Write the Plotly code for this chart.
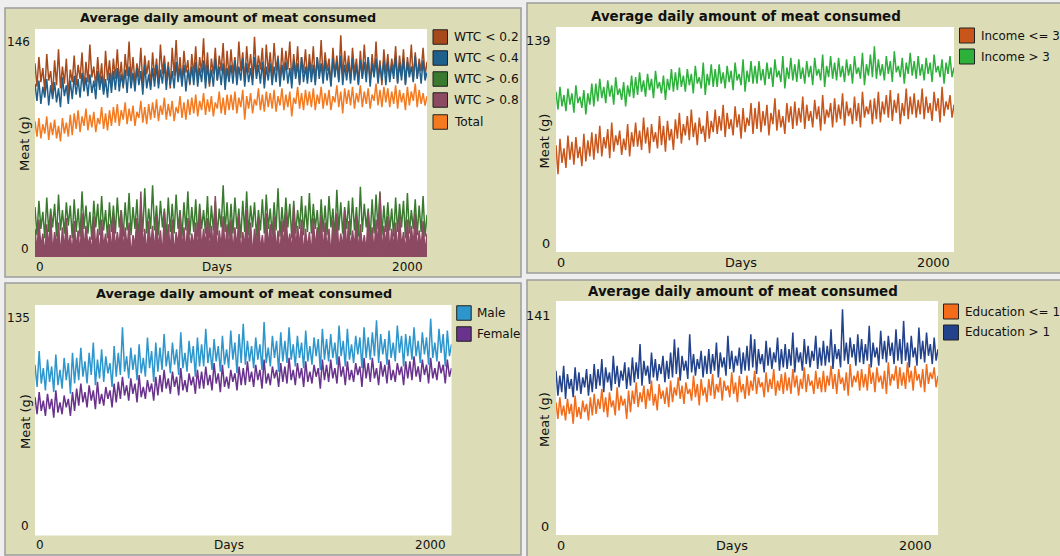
import plotly.graph_objects as go

W, H = 1060, 556

# ---------------- data (~every 10 days) ----------------
DAYS_MAX = 2000

wtc_lt02 = [124, 109, 128, 112, 121, 106, 130, 113, 119, 104, 126, 110, 133, 108, 122, 111, 127, 103, 120, 112,
            129, 110, 123, 114, 131, 107, 125, 112, 136, 115, 122, 109, 128, 111, 124, 106, 132, 113, 126, 110,
            127, 114, 133, 112, 125, 108, 130, 116, 138, 113, 128, 111, 124, 115, 134, 110, 129, 117, 126, 109,
            131, 115, 127, 111, 136, 117, 129, 113, 125, 108, 134, 116, 139, 114, 128, 112, 132, 118, 126, 110,
            130, 116, 135, 112, 128, 118, 140, 114, 131, 109, 127, 117, 134, 113, 129, 119, 137, 111, 132, 115,
            133, 117, 128, 113, 138, 119, 131, 112, 135, 118, 130, 114, 141, 116, 129, 120, 134, 111, 136, 118,
            131, 115, 137, 119, 129, 112, 134, 117, 132, 120, 138, 113, 130, 116, 135, 111, 128, 118, 133, 114,
            130, 117, 135, 112, 128, 116, 139, 114, 131, 119, 127, 110, 134, 117, 129, 113, 142, 115, 132, 118,
            129, 113, 134, 118, 127, 111, 132, 115, 136, 117, 128, 112, 130, 116, 138, 114, 126, 110, 133, 117,
            130, 114, 127, 118, 135, 112, 129, 116, 133, 111, 128, 117, 136, 113, 131, 115, 127, 119, 134, 116, 125]
wtc_lt04 = [111, 100, 113, 98, 109, 102, 114, 97, 110, 101, 112, 99, 108, 96, 115, 103, 110, 98, 113, 101,
            116, 104, 114, 102, 118, 106, 115, 103, 117, 105, 113, 101, 119, 107, 116, 104, 114, 102, 118, 105,
            119, 107, 121, 106, 117, 109, 120, 105, 122, 108, 118, 106, 121, 110, 119, 104, 123, 108, 117, 107,
            121, 109, 123, 108, 120, 111, 124, 107, 122, 110, 119, 108, 125, 112, 121, 109, 123, 106, 120, 111,
            122, 110, 125, 109, 121, 112, 126, 108, 123, 111, 120, 109, 127, 113, 122, 110, 124, 107, 121, 112,
            123, 111, 126, 110, 122, 113, 127, 109, 124, 112, 121, 110, 128, 114, 123, 111, 125, 108, 122, 113,
            124, 110, 122, 112, 127, 109, 123, 113, 125, 111, 121, 108, 126, 114, 124, 110, 128, 112, 122, 111,
            125, 112, 123, 110, 128, 114, 124, 111, 126, 113, 122, 109, 127, 115, 125, 112, 129, 110, 123, 113,
            124, 111, 127, 113, 123, 110, 126, 114, 125, 112, 128, 109, 124, 115, 127, 111, 123, 113, 126, 110,
            125, 112, 123, 114, 128, 111, 124, 113, 127, 110, 125, 115, 122, 112, 129, 114, 124, 111, 126, 113, 118]
wtc_gt06 = [32, 14, 36, 18, 29, 12, 38, 16, 31, 19, 34, 13, 40, 17, 30, 15, 35, 20, 33, 12,
            37, 16, 31, 13, 42, 18, 33, 15, 29, 11, 36, 19, 34, 14, 39, 17, 30, 12, 35, 16,
            33, 15, 38, 19, 30, 13, 35, 17, 41, 14, 32, 18, 37, 12, 34, 16, 44, 15, 31, 18,
            46, 17, 33, 14, 36, 19, 31, 12, 38, 16, 34, 15, 40, 18, 30, 13, 35, 17, 42, 14,
            32, 16, 37, 13, 34, 18, 30, 15, 39, 12, 33, 17, 36, 14, 31, 19, 46, 16, 35, 13,
            34, 15, 38, 18, 31, 12, 36, 16, 42, 14, 33, 19, 35, 13, 30, 17, 37, 15, 40, 18,
            31, 14, 35, 17, 44, 13, 32, 16, 38, 19, 34, 12, 36, 15, 30, 18, 39, 14, 33, 16,
            41, 15, 34, 18, 30, 12, 37, 16, 33, 14, 39, 19, 31, 13, 43, 17, 35, 15, 32, 18,
            36, 14, 38, 17, 32, 13, 45, 16, 34, 19, 31, 12, 37, 15, 40, 18, 42, 14, 33, 16,
            35, 17, 31, 13, 38, 16, 34, 19, 36, 12, 41, 15, 30, 18, 37, 14, 33, 16, 39, 13, 27]
wtc_gt08 = [18, 3, 24, 6, 15, 1, 21, 5, 27, 2, 16, 7, 22, 0, 19, 4, 25, 6, 14, 2,
            23, 5, 17, 1, 28, 4, 20, 7, 13, 2, 26, 5, 18, 0, 24, 6, 15, 3, 21, 1,
            27, 4, 16, 6, 30, 2, 19, 5, 22, 0, 14, 7, 25, 3, 42, 5, 18, 1, 23, 6,
            20, 2, 26, 5, 17, 0, 29, 6, 21, 3, 24, 1, 16, 7, 28, 4, 19, 2, 25, 5,
            15, 6, 22, 1, 31, 4, 18, 7, 25, 2, 20, 5, 39, 0, 17, 6, 26, 3, 21, 4,
            24, 2, 19, 5, 27, 1, 16, 6, 30, 3, 22, 0, 18, 7, 25, 4, 14, 2, 28, 5,
            21, 6, 26, 3, 17, 1, 23, 5, 29, 7, 15, 2, 33, 4, 20, 6, 24, 0, 18, 5,
            16, 1, 25, 5, 19, 7, 27, 2, 22, 4, 18, 0, 24, 6, 28, 3, 15, 5, 30, 2,
            23, 4, 17, 6, 26, 1, 21, 5, 14, 3, 29, 7, 19, 2, 24, 5, 41, 0, 20, 6,
            26, 3, 18, 5, 22, 1, 27, 6, 16, 2, 24, 4, 20, 7, 28, 3, 17, 5, 23, 2, 15]
total = [87, 77, 89, 76, 85, 79, 90, 75, 86, 78, 88, 76, 84, 74, 89, 79, 86, 77, 91, 78,
         92, 82, 94, 80, 90, 84, 95, 81, 91, 83, 93, 80, 89, 85, 96, 82, 92, 81, 94, 84,
         96, 86, 98, 84, 94, 88, 99, 85, 95, 87, 97, 84, 93, 89, 100, 86, 96, 85, 98, 88,
         99, 89, 101, 87, 97, 91, 102, 88, 98, 90, 100, 87, 96, 92, 103, 89, 99, 88, 101, 91,
         102, 92, 104, 90, 100, 94, 105, 91, 101, 93, 103, 90, 99, 95, 106, 92, 102, 91, 104, 94,
         104, 94, 106, 92, 102, 96, 107, 88, 103, 95, 105, 92, 101, 97, 108, 94, 104, 93, 106, 96,
         105, 95, 107, 93, 103, 97, 108, 94, 104, 96, 106, 90, 102, 98, 109, 95, 105, 94, 107, 97,
         106, 96, 108, 94, 104, 98, 109, 95, 105, 97, 107, 94, 103, 99, 110, 96, 106, 92, 108, 98,
         107, 97, 109, 95, 105, 99, 110, 96, 106, 98, 108, 95, 104, 100, 111, 97, 107, 96, 109, 99,
         108, 96, 106, 98, 110, 95, 107, 99, 105, 94, 109, 97, 106, 100, 111, 96, 107, 98, 105, 97, 103]

income_le3 = [66, 48, 70, 55, 64, 52, 72, 57, 68, 54, 71, 58, 65, 53, 73, 56, 69, 59, 74, 57,
              73, 61, 78, 59, 71, 64, 76, 58, 80, 62, 72, 66, 75, 60, 70, 63, 79, 59, 74, 65,
              80, 65, 75, 63, 83, 67, 77, 61, 79, 68, 74, 64, 84, 66, 78, 62, 81, 69, 76, 63,
              82, 70, 86, 67, 79, 72, 84, 69, 88, 71, 80, 66, 83, 73, 78, 68, 87, 70, 81, 74,
              88, 73, 84, 75, 91, 71, 86, 76, 82, 72, 90, 77, 85, 70, 89, 74, 83, 78, 92, 73,
              89, 76, 93, 74, 87, 78, 91, 72, 86, 79, 95, 75, 88, 77, 84, 73, 92, 80, 90, 76,
              93, 78, 89, 80, 96, 76, 91, 81, 87, 77, 94, 82, 90, 75, 97, 79, 88, 83, 92, 77,
              95, 80, 91, 82, 98, 78, 93, 84, 89, 79, 96, 81, 92, 77, 99, 83, 90, 85, 94, 79,
              95, 82, 99, 80, 93, 85, 97, 83, 100, 81, 94, 86, 98, 79, 92, 84, 101, 82, 96, 85,
              98, 83, 94, 85, 101, 82, 96, 86, 92, 81, 99, 87, 95, 80, 102, 84, 93, 88, 97, 83, 91]
income_gt3 = [99, 88, 102, 90, 97, 87, 101, 91, 98, 86, 103, 92, 96, 89, 100, 85, 98, 91, 104, 90,
              104, 93, 107, 95, 102, 92, 106, 96, 103, 91, 108, 97, 101, 94, 105, 90, 103, 96, 109, 95,
              108, 97, 111, 99, 106, 96, 110, 100, 107, 95, 112, 101, 105, 98, 109, 94, 107, 100, 113, 99,
              111, 100, 114, 102, 109, 99, 113, 103, 110, 98, 115, 104, 108, 101, 117, 97, 110, 103, 116, 102,
              113, 102, 116, 104, 111, 101, 115, 105, 112, 100, 117, 106, 110, 103, 119, 99, 112, 105, 118, 104,
              115, 104, 118, 106, 113, 103, 117, 107, 114, 102, 119, 108, 112, 105, 121, 101, 114, 107, 120, 106,
              116, 105, 119, 107, 114, 104, 118, 108, 115, 103, 120, 109, 113, 106, 122, 102, 115, 108, 121, 107,
              117, 106, 120, 108, 115, 105, 119, 109, 116, 104, 121, 110, 114, 107, 123, 103, 116, 109, 122, 108,
              127, 107, 119, 109, 116, 106, 121, 110, 118, 105, 124, 111, 115, 108, 120, 104, 117, 110, 123, 109,
              118, 107, 121, 109, 116, 106, 120, 110, 117, 105, 122, 111, 115, 108, 119, 104, 117, 110, 121, 108, 114]

male = [100, 87, 108, 89, 98, 85, 103, 90, 99, 84, 106, 88, 97, 86, 104, 91, 101, 83, 107, 89,
        104, 91, 110, 93, 102, 89, 107, 94, 113, 88, 103, 92, 109, 90, 105, 95, 101, 87, 111, 93,
        107, 94, 122, 96, 105, 92, 110, 97, 106, 91, 112, 95, 104, 93, 116, 98, 108, 90, 113, 96,
        110, 97, 118, 99, 108, 95, 113, 100, 109, 94, 119, 98, 107, 96, 114, 101, 111, 93, 116, 99,
        112, 99, 121, 101, 110, 97, 115, 102, 111, 96, 117, 100, 109, 98, 120, 103, 113, 95, 118, 101,
        124, 100, 114, 102, 111, 98, 116, 103, 112, 97, 125, 101, 110, 99, 117, 104, 114, 96, 119, 102,
        114, 101, 122, 103, 112, 99, 117, 104, 113, 98, 120, 102, 111, 100, 116, 105, 115, 97, 121, 103,
        115, 102, 118, 104, 113, 100, 123, 105, 114, 99, 121, 103, 112, 101, 117, 106, 116, 98, 122, 104,
        116, 103, 119, 105, 126, 101, 118, 106, 115, 100, 120, 104, 113, 102, 123, 107, 117, 99, 118, 105,
        117, 103, 122, 105, 114, 101, 119, 106, 116, 100, 127, 104, 113, 102, 121, 107, 118, 99, 120, 105, 112]
female = [81, 71, 84, 73, 79, 70, 83, 74, 80, 69, 85, 72, 78, 71, 82, 75, 80, 70, 84, 73,
          86, 76, 89, 78, 84, 75, 88, 79, 85, 74, 90, 77, 83, 76, 87, 80, 85, 75, 89, 78,
          90, 80, 93, 82, 88, 79, 92, 83, 89, 78, 94, 81, 87, 80, 91, 84, 89, 79, 93, 82,
          94, 84, 97, 86, 92, 83, 96, 87, 93, 82, 98, 85, 91, 84, 95, 88, 93, 83, 97, 86,
          96, 86, 99, 88, 94, 85, 101, 89, 95, 84, 100, 87, 93, 86, 97, 90, 95, 85, 99, 88,
          98, 88, 102, 90, 96, 87, 100, 91, 97, 86, 103, 89, 95, 88, 99, 92, 97, 87, 101, 90,
          99, 89, 104, 91, 97, 88, 101, 92, 98, 87, 102, 90, 96, 89, 100, 93, 98, 86, 103, 91,
          100, 90, 103, 92, 98, 89, 105, 93, 99, 88, 102, 91, 97, 90, 101, 94, 99, 87, 104, 92,
          101, 90, 104, 92, 98, 88, 102, 93, 100, 89, 103, 91, 97, 90, 101, 94, 99, 88, 102, 92,
          102, 91, 105, 93, 99, 90, 103, 94, 100, 89, 104, 92, 98, 91, 102, 95, 100, 89, 103, 93, 98]

edu_le1 = [80, 70, 83, 72, 78, 69, 82, 73, 79, 67, 84, 71, 77, 70, 81, 74, 79, 69, 83, 72,
           85, 73, 82, 76, 88, 74, 83, 71, 86, 77, 81, 72, 89, 75, 84, 78, 82, 70, 87, 74,
           87, 79, 92, 77, 86, 80, 90, 76, 88, 81, 93, 78, 85, 75, 91, 82, 87, 79, 89, 77,
           93, 80, 89, 84, 95, 82, 90, 79, 92, 85, 88, 81, 96, 83, 91, 78, 94, 84, 89, 80,
           94, 84, 97, 82, 91, 86, 95, 81, 93, 87, 90, 83, 98, 85, 92, 80, 96, 86, 91, 82,
           96, 84, 93, 87, 99, 85, 95, 89, 92, 83, 98, 86, 94, 88, 100, 84, 93, 87, 97, 85,
           98, 87, 95, 85, 100, 89, 96, 84, 94, 88, 101, 86, 97, 90, 93, 85, 99, 88, 95, 86,
           99, 86, 96, 90, 102, 88, 97, 85, 100, 91, 95, 87, 98, 84, 103, 89, 96, 92, 99, 87,
           100, 89, 97, 87, 103, 91, 98, 86, 101, 92, 96, 88, 99, 85, 104, 90, 97, 93, 102, 88,
           101, 90, 98, 88, 104, 92, 99, 87, 102, 93, 97, 89, 100, 86, 103, 91, 98, 94, 101, 89, 96]
edu_gt1 = [99, 84, 96, 86, 102, 82, 97, 88, 94, 83, 101, 87, 98, 85, 95, 89, 100, 84, 97, 86,
           103, 88, 100, 90, 106, 86, 101, 92, 98, 87, 108, 91, 102, 89, 99, 93, 104, 88, 101, 90,
           107, 92, 104, 94, 115, 90, 105, 96, 102, 91, 110, 95, 106, 93, 103, 97, 108, 92, 105, 94,
           110, 95, 118, 97, 113, 93, 108, 99, 105, 94, 121, 98, 109, 96, 106, 100, 111, 95, 108, 97,
           112, 97, 109, 99, 116, 95, 110, 101, 107, 96, 120, 100, 111, 98, 108, 102, 113, 97, 110, 99,
           114, 99, 121, 101, 118, 97, 112, 103, 109, 98, 117, 102, 113, 100, 110, 104, 119, 99, 112, 101,
           115, 100, 112, 102, 122, 98, 113, 104, 110, 99, 118, 103, 114, 101, 111, 105, 120, 100, 113, 102,
           117, 102, 114, 104, 124, 100, 115, 106, 112, 101, 136, 105, 116, 103, 119, 107, 115, 102, 121, 104,
           118, 103, 115, 105, 126, 101, 116, 107, 113, 102, 123, 106, 117, 104, 120, 108, 116, 103, 124, 105,
           118, 103, 129, 105, 116, 101, 120, 107, 113, 102, 125, 106, 117, 104, 122, 108, 115, 103, 119, 105, 112]

TITLE = "Average daily amount of meat consumed"
X_TITLE = "Days"
Y_TITLE = "Meat (g)"
y_max_labels = [146, 139, 135, 141]

tl_labels = ["WTC < 0.2", "WTC < 0.4", "WTC > 0.6", "WTC > 0.8", "Total"]
tr_labels = ["Income <= 3", "Income > 3"]
bl_labels = ["Male", "Female"]
br_labels = ["Education <= 1", "Education > 1"]

# ---------------- styling ----------------
tl_colors = ["#a64a1c", "#1f5f8c", "#3a7a2e", "#8c4a62", "#f47a20"]
tr_colors = ["#c8561b", "#2db13b"]
bl_colors = ["#2c96cd", "#69328c"]
br_colors = ["#f26c1a", "#22428c"]

BEIGE = "#dcdcb6"
FONT = "DejaVu Sans"


def fx(p):
    return p / W


def fy(p):
    return 1 - p / H


panels = [
    dict(series=[wtc_lt02, wtc_lt04, wtc_gt06, wtc_gt08, total], labels=tl_labels, colors=tl_colors,
         fill=[False, False, False, True, False], ymax=y_max_labels[0],
         box=(5, 8, 521, 277), plot=(35, 29, 427, 257),
         ymaxpos=(32, 42), yminpos=(31, 249), x0pos=(34, 267), xmaxpos=(425, 267),
         dayspos=(217, 267), ytpos=(25, 144), titlepos=(228, 17.5),
         legx=433, legtx=452, legys=[37, 58, 79, 100, 122], sq=14.5,
         fs=12, fst=12.8, fsl=12.2),
    dict(series=[income_le3, income_gt3], labels=tr_labels, colors=tr_colors,
         fill=[False, False], ymax=y_max_labels[1],
         box=(527, 3, 1063, 273), plot=(556, 27, 954, 252),
         ymaxpos=(552, 40), yminpos=(552, 244), x0pos=(555, 262), xmaxpos=(951.5, 262),
         dayspos=(741, 262), ytpos=(544, 141.5), titlepos=(746, 16),
         legx=959.5, legtx=979, legys=[35.5, 56.5], sq=15,
         fs=12.8, fst=13.4, fsl=11.9),
    dict(series=[male, female], labels=bl_labels, colors=bl_colors,
         fill=[False, False], ymax=y_max_labels[2],
         box=(5, 283, 521, 555), plot=(35, 305, 451.5, 535.5),
         ymaxpos=(32, 318), yminpos=(31, 526), x0pos=(34, 545), xmaxpos=(448, 545),
         dayspos=(229, 545), ytpos=(25, 422), titlepos=(244, 293.7),
         legx=456.7, legtx=475, legys=[313, 334], sq=14.5,
         fs=12, fst=12.8, fsl=12.0),
    dict(series=[edu_le1, edu_gt1], labels=br_labels, colors=br_colors,
         fill=[False, False], ymax=y_max_labels[3],
         box=(527, 280, 1063, 558), plot=(556, 301, 938, 535),
         ymaxpos=(551.6, 315), yminpos=(551, 526), x0pos=(555, 545), xmaxpos=(933.7, 545),
         dayspos=(732, 545), ytpos=(544, 420), titlepos=(742.6, 291.3),
         legx=943.5, legtx=962.7, legys=[311.5, 332.5], sq=15,
         fs=12.8, fst=13.4, fsl=12.0),
]

fig = go.Figure()
shapes = []
annotations = []

for p in panels:
    x0, y0, x1, y1 = p["box"]
    shapes.append(dict(type="rect", xref="paper", yref="paper", layer="below",
                       x0=fx(x0), x1=fx(x1), y0=fy(y1), y1=fy(y0),
                       fillcolor=BEIGE, line=dict(color="#9c9c9c", width=1.5)))
for p in panels:
    x0, y0, x1, y1 = p["plot"]
    shapes.append(dict(type="rect", xref="paper", yref="paper", layer="below",
                       x0=fx(x0), x1=fx(x1), y0=fy(y1), y1=fy(y0),
                       fillcolor="white", line=dict(width=0)))


def txt(text, pos, xanchor="center", yanchor="middle", size=12, bold=False, angle=0):
    annotations.append(dict(
        text=f"<b>{text}</b>" if bold else text, x=fx(pos[0]), y=fy(pos[1]),
        xref="paper", yref="paper", xanchor=xanchor, yanchor=yanchor,
        showarrow=False, textangle=angle,
        font=dict(family=FONT, size=size, color="#111111")))


layout_axes = {}
for i, p in enumerate(panels, start=1):
    xa = "xaxis" if i == 1 else f"xaxis{i}"
    ya = "yaxis" if i == 1 else f"yaxis{i}"
    xr = "x" if i == 1 else f"x{i}"
    yr = "y" if i == 1 else f"y{i}"
    x0, y0, x1, y1 = p["plot"]
    layout_axes[xa] = dict(domain=[fx(x0), fx(x1)], range=[0, DAYS_MAX], anchor=yr,
                           visible=False, showgrid=False, zeroline=False)
    layout_axes[ya] = dict(domain=[fy(y1), fy(y0)], range=[0, p["ymax"]], anchor=xr,
                           visible=False, showgrid=False, zeroline=False)
    for vals, lab, col, fl in zip(p["series"], p["labels"], p["colors"], p["fill"]):
        n = len(vals)
        xs = [DAYS_MAX * k / (n - 1) for k in range(n)]
        fig.add_trace(go.Scatter(
            x=xs, y=vals, mode="lines", name=lab, xaxis=xr, yaxis=yr,
            line=dict(color=col, width=1.5),
            fill="tozeroy" if fl else None, fillcolor=col if fl else None,
            showlegend=False, hoverinfo="skip"))
    fs = p["fs"]
    txt(TITLE, p["titlepos"], size=p["fst"], bold=True)
    txt(str(p["ymax"]), p["ymaxpos"], xanchor="right", size=fs)
    txt("0", p["yminpos"], xanchor="right", size=fs)
    txt("0", p["x0pos"], xanchor="left", size=fs)
    txt(str(DAYS_MAX), p["xmaxpos"], xanchor="right", size=fs)
    txt(X_TITLE, p["dayspos"], size=fs)
    txt(Y_TITLE, p["ytpos"], angle=-90, size=13)
    sq = p["sq"]
    for lab, col, yy in zip(p["labels"], p["colors"], p["legys"]):
        shapes.append(dict(type="rect", xref="paper", yref="paper", layer="above",
                           x0=fx(p["legx"]), x1=fx(p["legx"] + sq),
                           y0=fy(yy + sq / 2), y1=fy(yy - sq / 2),
                           fillcolor=col, line=dict(color="#222222", width=1)))
        txt(lab, (p["legtx"], yy), xanchor="left", size=p["fsl"])

fig.update_layout(
    width=W, height=H, margin=dict(l=0, r=0, t=0, b=0),
    paper_bgcolor="#eeeeee", plot_bgcolor="rgba(0,0,0,0)",
    showlegend=False, shapes=shapes, annotations=annotations,
    **layout_axes)

fig.write_html("out.html", config={"displayModeBar": False},
               post_script="document.body.style.margin='0';document.body.style.padding='0';"
                           "document.documentElement.style.overflow='hidden';")
